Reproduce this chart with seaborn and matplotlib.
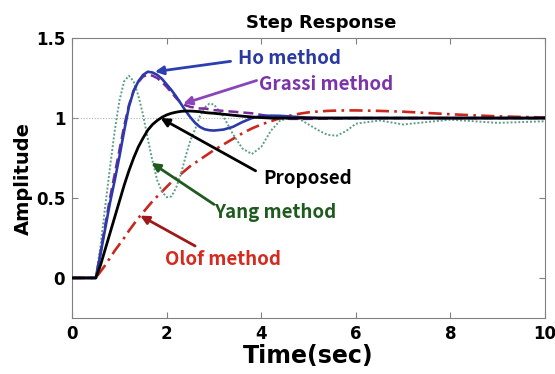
import numpy as np
import pandas as pd
import matplotlib
matplotlib.use("Agg")
import matplotlib.pyplot as plt
import seaborn as sns

# ---------------- data ----------------
time_s = [0, 0.5, 0.6, 0.7, 0.8, 0.9, 1.0, 1.1, 1.2, 1.3, 1.4, 1.5, 1.6, 1.7, 1.8, 1.9,
          2.0, 2.1, 2.2, 2.3, 2.4, 2.5, 2.6, 2.7, 2.8, 2.9, 3.0, 3.2, 3.4, 3.6, 3.8,
          4.0, 4.2, 4.4, 4.6, 4.8, 5.0, 5.2, 5.4, 5.6, 5.8, 6.0, 6.5, 7.0, 7.5, 8.0,
          8.5, 9.0, 9.5, 10.0]

ho_method = [0, 0, 0.15, 0.31, 0.47, 0.61, 0.76, 0.92, 1.07, 1.17, 1.23, 1.27, 1.29, 1.285, 1.27, 1.245,
             1.21, 1.175, 1.135, 1.09, 1.045, 1.005, 0.97, 0.945, 0.93, 0.924, 0.922, 0.928, 0.945, 0.975, 1.0,
             1.012, 1.015, 1.014, 1.01, 1.006, 1.003, 1.0, 1.0, 1.0, 1.0, 1.0, 1.0, 1.0, 1.0, 1.0,
             1.0, 1.0, 1.0, 1.0]

grassi_method = [0, 0, 0.16, 0.33, 0.5, 0.65, 0.8, 0.95, 1.08, 1.17, 1.225, 1.26, 1.27, 1.265, 1.25, 1.225,
                 1.195, 1.16, 1.125, 1.095, 1.08, 1.07, 1.065, 1.06, 1.06, 1.055, 1.05, 1.045, 1.04, 1.035, 1.03,
                 1.02, 1.01, 1.0, 0.995, 0.995, 0.995, 0.996, 0.997, 0.998, 0.999, 1.0, 1.0, 1.0, 1.0, 1.0,
                 1.0, 1.0, 1.0, 1.0]

proposed = [0, 0, 0.08, 0.18, 0.28, 0.38, 0.48, 0.58, 0.67, 0.75, 0.82, 0.875, 0.925, 0.96, 0.985, 1.005,
            1.02, 1.03, 1.037, 1.042, 1.044, 1.044, 1.042, 1.04, 1.035, 1.032, 1.03, 1.024, 1.018, 1.012, 1.007,
            1.003, 1.0, 1.0, 1.0, 1.0, 1.0, 1.0, 1.0, 1.0, 1.0, 1.0, 1.0, 1.0, 1.0, 1.0,
            1.0, 1.0, 1.0, 1.0]

yang_method = [0, 0, 0.2, 0.45, 0.69, 0.92, 1.11, 1.23, 1.265, 1.23, 1.14, 1.02, 0.87, 0.73, 0.61, 0.54,
               0.505, 0.51, 0.565, 0.65, 0.76, 0.86, 0.93, 1.01, 1.065, 1.09, 1.085, 1.01, 0.9, 0.81, 0.775,
               0.82, 0.92, 0.985, 1.0, 0.995, 0.96, 0.925, 0.895, 0.89, 0.92, 0.965, 0.985, 0.96, 0.975, 0.99,
               0.98, 0.97, 0.975, 0.98]

olof_method = [0, 0, 0.04, 0.08, 0.125, 0.17, 0.21, 0.25, 0.295, 0.335, 0.375, 0.41, 0.445, 0.48, 0.51, 0.54,
               0.57, 0.6, 0.625, 0.65, 0.675, 0.70, 0.72, 0.74, 0.76, 0.78, 0.80, 0.835, 0.87, 0.905, 0.935,
               0.96, 0.98, 1.0, 1.015, 1.027, 1.036, 1.041, 1.045, 1.047, 1.048, 1.048, 1.045, 1.04, 1.032, 1.024,
               1.017, 1.011, 1.007, 1.004]

x_ticks = [0, 2, 4, 6, 8, 10]
y_ticks = [0, 0.5, 1, 1.5]
y_tick_labels = ["0", "0.5", "1", "1.5"]

# ---------------- figure ----------------
sns.set_style("ticks")
plt.rcParams['font.family'] = ['DejaVu Sans']
plt.rcParams['text.color'] = 'black'
plt.rcParams['axes.labelcolor'] = 'black'

fig = plt.figure(figsize=(5.55, 3.74), dpi=100)
ax = fig.add_axes([0.130, 0.150, 0.852, 0.748])

ax.axhline(1.0, color="#b0b0b0", lw=0.8, ls=(0, (1, 1.5)), zorder=1)

sns.lineplot(x=time_s, y=olof_method, ax=ax, color="#c8281e", lw=1.9,
             linestyle=(0, (5, 2, 1, 2)), zorder=2)
sns.lineplot(x=time_s, y=yang_method, ax=ax, color="#5c9e88", lw=1.4,
             linestyle=(0, (1, 1)), zorder=3)
sns.lineplot(x=time_s, y=grassi_method, ax=ax, color="#7a2a9a", lw=1.8,
             linestyle=(0, (4, 2)), zorder=4)
sns.lineplot(x=time_s, y=ho_method, ax=ax, color="#2b3aa8", lw=1.9, zorder=5)
sns.lineplot(x=time_s, y=proposed, ax=ax, color="black", lw=2.0, zorder=6)

ax.set_xlim(0, 10)
ax.set_ylim(-0.25, 1.5)
ax.set_xticks(x_ticks)
ax.set_xticklabels([str(v) for v in x_ticks])
ax.set_yticks(y_ticks)
ax.set_yticklabels(y_tick_labels)
ax.tick_params(direction="in", top=True, right=True, length=4, width=0.8,
               colors="#808080", labelcolor="black", labelsize=12, pad=5)
for lab in ax.get_xticklabels() + ax.get_yticklabels():
    lab.set_fontweight("bold")
for sp in ax.spines.values():
    sp.set_color("#808080")
    sp.set_linewidth(0.8)

ax.set_title("Step Response", fontsize=13, fontweight="bold", x=0.526, pad=7, color="black")
ax.set_xlabel("Time(sec)", fontsize=17, fontweight="bold", labelpad=1, color="black")
ax.set_ylabel("Amplitude", fontsize=14, fontweight="bold", labelpad=2, color="black")

# ---------------- annotations ----------------
ann_font = ['Noto Sans CJK KR', 'DejaVu Sans']
notes = [
    ("Ho method", "#2b3aa0", "#2b3fb0", (3.5, 1.375), (1.75, 1.29), (3.35, 1.355)),
    ("Grassi method", "#7a35a8", "#8a45b8", (3.95, 1.21), (2.35, 1.09), (3.9, 1.235)),
    ("Proposed", "black", "black", (4.05, 0.62), (1.87, 1.0), (3.88, 0.67)),
    ("Yang method", "#1f5a1f", "#1f5a1f", (3.0, 0.41), (1.68, 0.72), (3.0, 0.46)),
    ("Olof method", "#d42a20", "#a01818", (1.97, 0.115), (1.44, 0.39), (2.6, 0.2)),
]
for text, tcol, acol, tpos, tip, tail in notes:
    ax.text(tpos[0], tpos[1], text, color=tcol, fontsize=13.5, fontweight="bold",
            family=ann_font, ha="left", va="center", zorder=10)
    ax.annotate("", xy=tip, xytext=tail,
                arrowprops=dict(arrowstyle="-|>,head_length=0.5,head_width=0.25",
                                color=acol, lw=2.0, shrinkA=0, shrinkB=0),
                zorder=9)

fig.savefig("out.png", dpi=100, facecolor="white")
